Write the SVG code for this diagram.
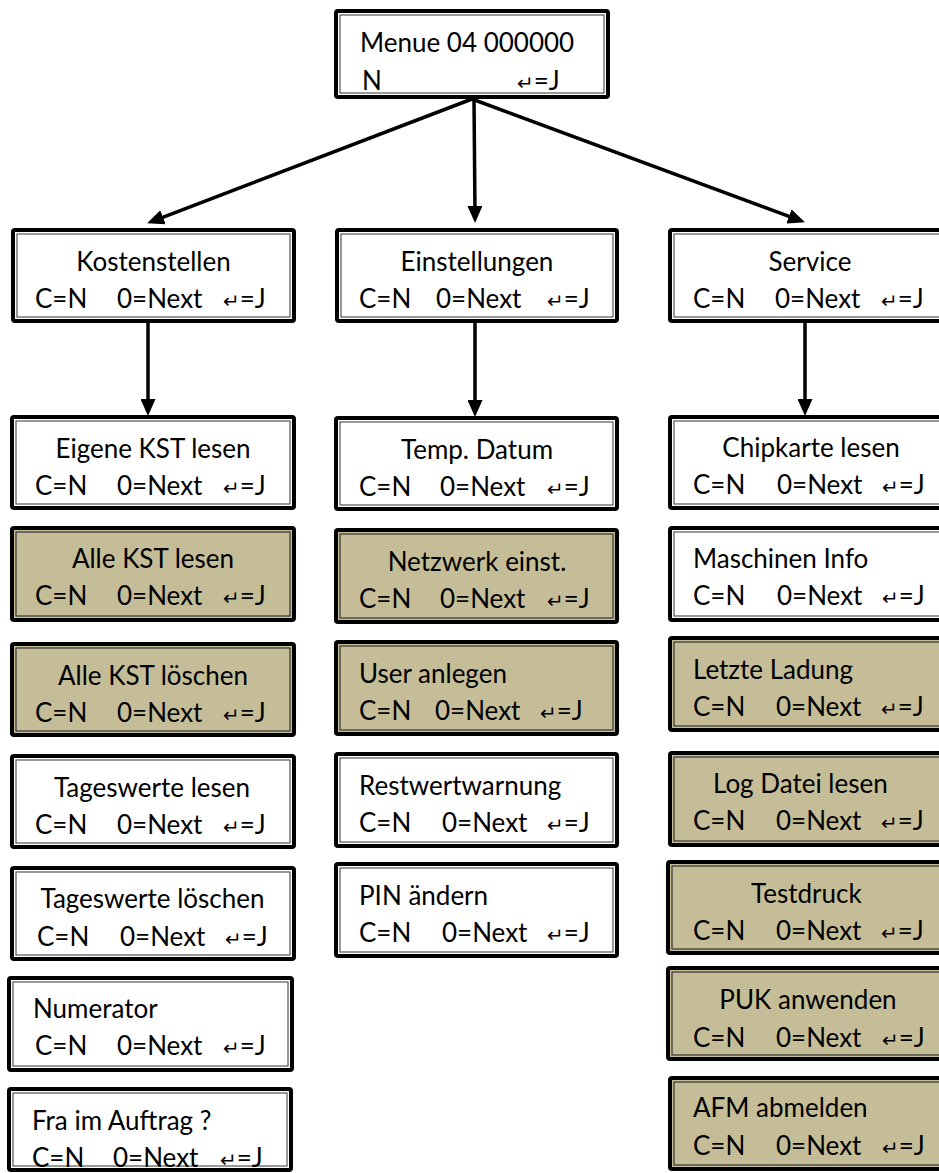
<svg xmlns="http://www.w3.org/2000/svg" width="939" height="1173" viewBox="0 0 939 1173">
<style>
.o{fill:#fff;stroke:#000;stroke-width:4}
.tan .o{fill:#C4BD97}
.i{fill:none;stroke:#555;stroke-width:1.2}
.tan .i{stroke:#333}
text{font-family:Lato,"Liberation Sans",sans-serif;font-size:26px;fill:#000}
.c{text-anchor:middle}
.e{font-family:"DejaVu Sans",sans-serif;font-size:20px}
.ln{stroke:#000;stroke-width:3.5;fill:none;marker-end:url(#ah)}
</style>
<defs>
<marker id="ah" markerWidth="17" markerHeight="15" refX="8" refY="7.5" orient="auto" markerUnits="userSpaceOnUse"><path d="M0,0 L17,7.5 L0,15 z" fill="#000"/></marker>
</defs>
<g id="connectors">
<line class="ln" x1="472" y1="99" x2="155.5" y2="220.1"/>
<line class="ln" x1="474" y1="99" x2="475" y2="214"/>
<line class="ln" x1="472" y1="99" x2="796.5" y2="219.2"/>
<line class="ln" x1="148" y1="323" x2="148" y2="407"/>
<line class="ln" x1="475" y1="323" x2="475" y2="408"/>
<line class="ln" x1="805" y1="323" x2="805" y2="407"/>
</g>
<g id="menue">
<rect class="o" x="336" y="11" width="272" height="86" rx="2"/><rect class="i" x="340" y="15" width="264" height="78"/>
<text x="360" y="52">Menue 04 000000</text>
<text y="90"><tspan x="362">N</tspan><tspan x="517"><tspan class="e">↵</tspan>=J</tspan></text>
</g>
<g id="kostenstellen">
<rect class="o" x="13" y="230" width="281" height="91" rx="2"/><rect class="i" x="17" y="234" width="273" height="83"/>
<text class="c" x="153.5" y="271">Kostenstellen</text>
<text y="308"><tspan x="35">C=N</tspan><tspan x="117">0=Next</tspan><tspan x="223"><tspan class="e">↵</tspan>=J</tspan></text>
</g>
<g id="einstellungen">
<rect class="o" x="337" y="230" width="280" height="91" rx="2"/><rect class="i" x="341" y="234" width="272" height="83"/>
<text class="c" x="477" y="271">Einstellungen</text>
<text y="308"><tspan x="359">C=N</tspan><tspan x="436">0=Next</tspan><tspan x="547"><tspan class="e">↵</tspan>=J</tspan></text>
</g>
<g id="service">
<rect class="o" x="670" y="230" width="281" height="91" rx="2"/><rect class="i" x="674" y="234" width="273" height="83"/>
<text class="c" x="810" y="271">Service</text>
<text y="308"><tspan x="693">C=N</tspan><tspan x="775">0=Next</tspan><tspan x="881"><tspan class="e">↵</tspan>=J</tspan></text>
</g>
<g id="eigene-kst">
<rect class="o" x="12" y="417" width="282" height="91" rx="2"/><rect class="i" x="16" y="421" width="274" height="83"/>
<text class="c" x="153" y="458">Eigene KST lesen</text>
<text y="495"><tspan x="35">C=N</tspan><tspan x="117">0=Next</tspan><tspan x="223"><tspan class="e">↵</tspan>=J</tspan></text>
</g>
<g id="alle-kst-lesen" class="tan">
<rect class="o" x="12" y="528" width="282" height="92" rx="2"/><rect class="i" x="16" y="532" width="274" height="84"/>
<text class="c" x="153" y="568">Alle KST lesen</text>
<text y="605"><tspan x="35">C=N</tspan><tspan x="117">0=Next</tspan><tspan x="223"><tspan class="e">↵</tspan>=J</tspan></text>
</g>
<g id="alle-kst-loeschen" class="tan">
<rect class="o" x="12" y="644" width="282" height="91" rx="2"/><rect class="i" x="16" y="648" width="274" height="83"/>
<text class="c" x="153" y="685">Alle KST löschen</text>
<text y="722"><tspan x="35">C=N</tspan><tspan x="117">0=Next</tspan><tspan x="223"><tspan class="e">↵</tspan>=J</tspan></text>
</g>
<g id="tageswerte-lesen">
<rect class="o" x="12" y="756" width="282" height="91" rx="2"/><rect class="i" x="16" y="760" width="274" height="83"/>
<text class="c" x="152" y="797">Tageswerte lesen</text>
<text y="834"><tspan x="35">C=N</tspan><tspan x="117">0=Next</tspan><tspan x="223"><tspan class="e">↵</tspan>=J</tspan></text>
</g>
<g id="tageswerte-loeschen">
<rect class="o" x="12" y="868" width="282" height="91" rx="2"/><rect class="i" x="16" y="872" width="274" height="83"/>
<text class="c" x="152.5" y="908">Tageswerte löschen</text>
<text y="946"><tspan x="37">C=N</tspan><tspan x="120">0=Next</tspan><tspan x="225"><tspan class="e">↵</tspan>=J</tspan></text>
</g>
<g id="numerator">
<rect class="o" x="9" y="978" width="283" height="92" rx="2"/><rect class="i" x="13" y="982" width="275" height="84"/>
<text x="33" y="1018">Numerator</text>
<text y="1055"><tspan x="35">C=N</tspan><tspan x="117">0=Next</tspan><tspan x="223"><tspan class="e">↵</tspan>=J</tspan></text>
</g>
<g id="fra-im-auftrag">
<rect class="o" x="9" y="1089" width="282" height="81" rx="2"/><rect class="i" x="13" y="1093" width="274" height="73"/>
<text x="32" y="1130">Fra im Auftrag ?</text>
<text y="1167"><tspan x="32">C=N</tspan><tspan x="113">0=Next</tspan><tspan x="220"><tspan class="e">↵</tspan>=J</tspan></text>
</g>
<g id="temp-datum">
<rect class="o" x="336" y="418" width="281" height="91" rx="2"/><rect class="i" x="340" y="422" width="273" height="83"/>
<text class="c" x="477" y="459">Temp. Datum</text>
<text y="496"><tspan x="359">C=N</tspan><tspan x="440">0=Next</tspan><tspan x="547"><tspan class="e">↵</tspan>=J</tspan></text>
</g>
<g id="netzwerk" class="tan">
<rect class="o" x="336" y="530" width="281" height="92" rx="2"/><rect class="i" x="340" y="534" width="273" height="84"/>
<text class="c" x="477" y="571">Netzwerk einst.</text>
<text y="608"><tspan x="359">C=N</tspan><tspan x="440">0=Next</tspan><tspan x="547"><tspan class="e">↵</tspan>=J</tspan></text>
</g>
<g id="user-anlegen" class="tan">
<rect class="o" x="336" y="642" width="281" height="92" rx="2"/><rect class="i" x="340" y="646" width="273" height="84"/>
<text x="359" y="683">User anlegen</text>
<text y="720"><tspan x="359">C=N</tspan><tspan x="435">0=Next</tspan><tspan x="540"><tspan class="e">↵</tspan>=J</tspan></text>
</g>
<g id="restwertwarnung">
<rect class="o" x="336" y="754" width="281" height="92" rx="2"/><rect class="i" x="340" y="758" width="273" height="84"/>
<text x="359" y="795">Restwertwarnung</text>
<text y="832"><tspan x="359">C=N</tspan><tspan x="442">0=Next</tspan><tspan x="547"><tspan class="e">↵</tspan>=J</tspan></text>
</g>
<g id="pin-aendern">
<rect class="o" x="336" y="864" width="281" height="92" rx="2"/><rect class="i" x="340" y="868" width="273" height="84"/>
<text x="359" y="905">PIN ändern</text>
<text y="942"><tspan x="359">C=N</tspan><tspan x="442">0=Next</tspan><tspan x="547"><tspan class="e">↵</tspan>=J</tspan></text>
</g>
<g id="chipkarte">
<rect class="o" x="670" y="417" width="281" height="91" rx="2"/><rect class="i" x="674" y="421" width="273" height="83"/>
<text class="c" x="811" y="457">Chipkarte lesen</text>
<text y="494"><tspan x="693">C=N</tspan><tspan x="777">0=Next</tspan><tspan x="882"><tspan class="e">↵</tspan>=J</tspan></text>
</g>
<g id="maschinen-info">
<rect class="o" x="670" y="528" width="281" height="92" rx="2"/><rect class="i" x="674" y="532" width="273" height="84"/>
<text x="693" y="568">Maschinen Info</text>
<text y="605"><tspan x="693">C=N</tspan><tspan x="777">0=Next</tspan><tspan x="882"><tspan class="e">↵</tspan>=J</tspan></text>
</g>
<g id="letzte-ladung" class="tan">
<rect class="o" x="670" y="638" width="281" height="92" rx="2"/><rect class="i" x="674" y="642" width="273" height="84"/>
<text x="693" y="679">Letzte Ladung</text>
<text y="716"><tspan x="693">C=N</tspan><tspan x="776">0=Next</tspan><tspan x="881"><tspan class="e">↵</tspan>=J</tspan></text>
</g>
<g id="log-datei" class="tan">
<rect class="o" x="670" y="753" width="281" height="92" rx="2"/><rect class="i" x="674" y="757" width="273" height="84"/>
<text x="713" y="793">Log Datei lesen</text>
<text y="830"><tspan x="693">C=N</tspan><tspan x="776">0=Next</tspan><tspan x="881"><tspan class="e">↵</tspan>=J</tspan></text>
</g>
<g id="testdruck" class="tan">
<rect class="o" x="668" y="862" width="283" height="91" rx="2"/><rect class="i" x="672" y="866" width="275" height="83"/>
<text x="751" y="903">Testdruck</text>
<text y="940"><tspan x="693">C=N</tspan><tspan x="776">0=Next</tspan><tspan x="881"><tspan class="e">↵</tspan>=J</tspan></text>
</g>
<g id="puk-anwenden" class="tan">
<rect class="o" x="668" y="968" width="283" height="91" rx="2"/><rect class="i" x="672" y="972" width="275" height="83"/>
<text class="c" x="808" y="1009">PUK anwenden</text>
<text y="1047"><tspan x="693">C=N</tspan><tspan x="776">0=Next</tspan><tspan x="882"><tspan class="e">↵</tspan>=J</tspan></text>
</g>
<g id="afm-abmelden" class="tan">
<rect class="o" x="670" y="1078" width="281" height="91" rx="2"/><rect class="i" x="674" y="1082" width="273" height="83"/>
<text x="693" y="1117">AFM abmelden</text>
<text y="1155"><tspan x="693">C=N</tspan><tspan x="776">0=Next</tspan><tspan x="882"><tspan class="e">↵</tspan>=J</tspan></text>
</g>
</svg>
